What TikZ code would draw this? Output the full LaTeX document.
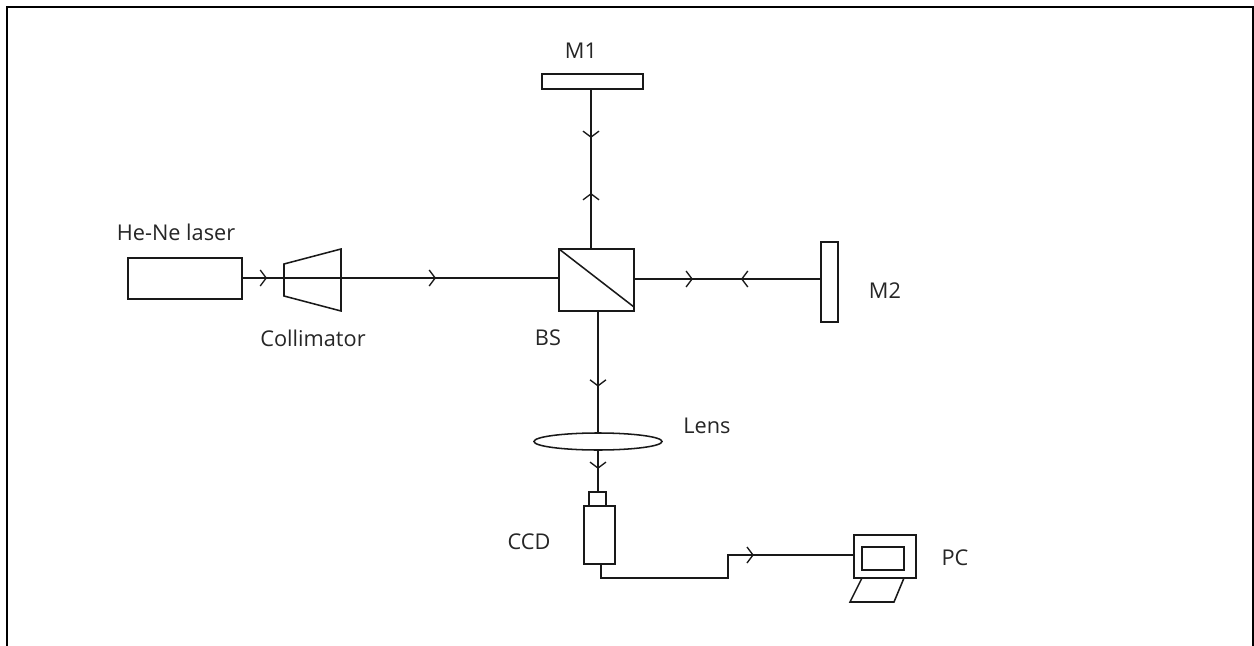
\documentclass[tikz,border=0pt]{standalone}
\usepackage{fontspec}
\setmainfont{Open Sans}
\usetikzlibrary{arrows.meta,decorations.markings,calc,shapes.geometric}
\tikzset{
  x=0.75pt,y=-0.75pt,
  line/.style={line width=1.15pt,draw=black!90},
  box/.style={line,rectangle,inner sep=0pt,outer sep=0pt,fill=white},
  lbl/.style={font=\fontsize{16.3}{18}\selectfont,text=black!85,inner sep=0pt},
  barb/.tip={Straight Barb[length=4.5pt,width=12pt,line width=1pt]},
  chev/.style={postaction={decorate,decoration={markings,mark=at position #1 with {\arrow{barb}}}}},
  chevb/.style={postaction={decorate,decoration={markings,mark=at position #1 with {\arrowreversed{barb}}}}},
}
\begin{document}
\begin{tikzpicture}
\useasboundingbox (0,0) rectangle (1254,646);
\fill[white] (0,0) rectangle (1254,646);
\draw[line width=1.9pt,black] (7,646) -- (7,7) -- (1253,7) -- (1253,646);

\node[box,minimum width=114*0.75pt,minimum height=41*0.75pt] (laser) at (185,278.5) {};
\node[box,minimum width=75*0.75pt,minimum height=62*0.75pt] (bs) at (596.5,280) {};
\node[box,minimum width=101*0.75pt,minimum height=15*0.75pt] (m1) at (592.5,81.5) {};
\node[box,minimum width=17*0.75pt,minimum height=80*0.75pt] (m2) at (829.5,282) {};
\node[line,ellipse,inner sep=0pt,outer sep=0pt,minimum width=128*0.75pt,minimum height=17*0.75pt] (lens) at (598,441.5) {};
\node[box,minimum width=17*0.75pt,minimum height=14*0.75pt] (cap) at (597.5,499) {};
\node[box,minimum width=31*0.75pt,minimum height=58*0.75pt] (ccd) at (599.5,535) {};
\node[box,minimum width=62*0.75pt,minimum height=43*0.75pt] (pc) at (885,556.5) {};
\node[box,minimum width=42*0.75pt,minimum height=23*0.75pt] (screen) at (883,558.5) {};

% collimator outline
\coordinate (c1) at (284,264);
\coordinate (c2) at (341,249);
\coordinate (c3) at (341,311);
\coordinate (c4) at (284,296);
\draw[line] (c1) -- (c2) -- (c3) -- (c4) -- cycle;

% beam splitter diagonal
\coordinate (bsd) at (634,307);
\draw[line] (bs.north west) -- (bsd);

% keyboard
\coordinate (k1) at (862,578);
\coordinate (k2) at (904,578);
\coordinate (k3) at (894,602);
\coordinate (k4) at (850,602);
\draw[line] (k1) -- (k4) -- (k3) -- (k2);

% connector anchor points
\coordinate (laserout) at (242,278);
\coordinate (bsin) at (559,278);
\coordinate (bsright) at (634,279);
\coordinate (m2in) at (821,279);
\coordinate (bstop) at (591,249);
\coordinate (m1low) at (591,89);
\coordinate (bslow) at (598,311);
\coordinate (captop) at (598,492);
\coordinate (ccdlow) at (601,564);
\coordinate (cb1) at (601,578);
\coordinate (cb2) at (728,578);
\coordinate (cb3) at (728,555);
\coordinate (pcin) at (854,555);

\draw[line,chev=0.079,chev=0.612] (laserout) -- (bsin);
\draw[line,chev=0.315,chevb=0.572] (bsright) -- (m2in);
\draw[line,chev=0.35,chevb=0.694] (bstop) -- (m1low);
\draw[line,chev=0.62] (bslow) -- (lens.north);
\draw[line,chev=0.45] (lens.south) -- (captop);
\draw[line,chev=0.205] (cb3) -- (pcin);
\draw[line,line join=miter] (ccdlow) -- (cb1) -- (cb2) -- (cb3) -- (pcin);

% labels
\node[lbl] (tlaser) at (176,232) {He-Ne laser};
\node[lbl] (tcoll) at (313,338) {Collimator};
\node[lbl] (tm1) at (581,51) {M1};
\node[lbl] (tm2) at (885,291) {M2};
\node[lbl] (tbs) at (548,338) {BS};
\node[lbl] (tlens) at (707,426) {Lens};
\node[lbl] (tccd) at (529,542) {CCD};
\node[lbl] (tpc) at (955,558) {PC};
\end{tikzpicture}
\end{document}
